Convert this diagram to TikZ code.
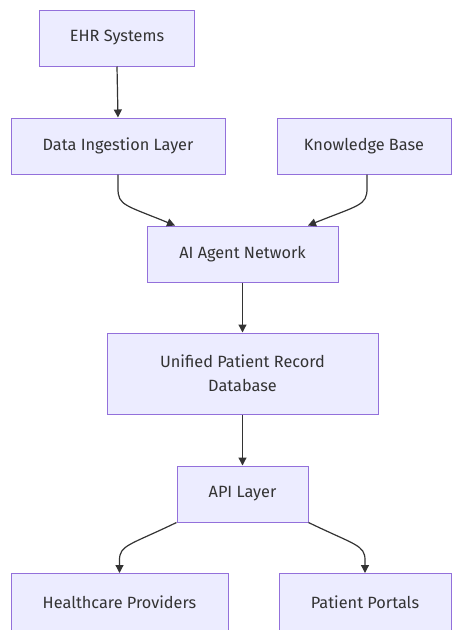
\documentclass[tikz,border=0pt]{standalone}
\usepackage{fontspec}
\setmainfont{Fira Sans}
\usetikzlibrary{arrows.meta}
\definecolor{boxfill}{HTML}{ECECFF}
\definecolor{boxline}{HTML}{9370DB}
\definecolor{ink}{HTML}{333333}
\tikzset{
  flowbox/.style={draw=boxline, fill=boxfill, line width=1pt, rectangle,
    inner sep=0pt, text=ink, font=\fontsize{16.3}{24}\selectfont, align=center},
  link/.style={draw=ink, line width=1.2pt, -{Triangle[length=8pt,width=8pt]}}
}
\begin{document}
\begin{tikzpicture}[x=1pt, y=-1pt]
  \useasboundingbox (0,0) rectangle (452,630);
  % nodes
  \node[flowbox, minimum width=155pt, minimum height=56pt] (ehr) at (117,38) {EHR Systems};
  \node[flowbox, minimum width=214pt, minimum height=56pt] (dil) at (118,146) {Data Ingestion Layer};
  \node[flowbox, minimum width=174pt, minimum height=56pt] (kb) at (364,146) {Knowledge Base};
  \node[flowbox, minimum width=191pt, minimum height=56pt] (ai) at (242.5,254) {AI Agent Network};
  \node[flowbox, minimum width=271pt, minimum height=81pt] (upr) at (242.5,373.5) {Unified Patient Record\\Database};
  \node[flowbox, minimum width=131pt, minimum height=56pt] (api) at (242.5,494) {API Layer};
  \node[flowbox, minimum width=217pt, minimum height=57pt] (hp) at (119.5,602) {Healthcare Providers};
  \node[flowbox, minimum width=172pt, minimum height=57pt] (pp) at (365,602) {Patient Portals};
  % connectors
  \draw[link] (ehr.south) -- (dil.north);
  \draw[link] (dil.south) -- ++(0,14) .. controls +(0,17) and (125,205) .. ([xshift=-67.5pt]ai.north);
  \draw[link] ([xshift=3pt]kb.south) -- ++(0,14) .. controls +(0,17) and (359,205) .. ([xshift=65.5pt]ai.north);
  \draw[link] (ai.south) -- (upr.north);
  \draw[link] (upr.south) -- (api.north);
  \draw[link] (api.south west) .. controls (130,545) and (119.5,545) .. (119.5,560) -- (hp.north);
  \draw[link] (api.south east) .. controls (355,545) and (365,545) .. (365,560) -- (pp.north);
\end{tikzpicture}
\end{document}
